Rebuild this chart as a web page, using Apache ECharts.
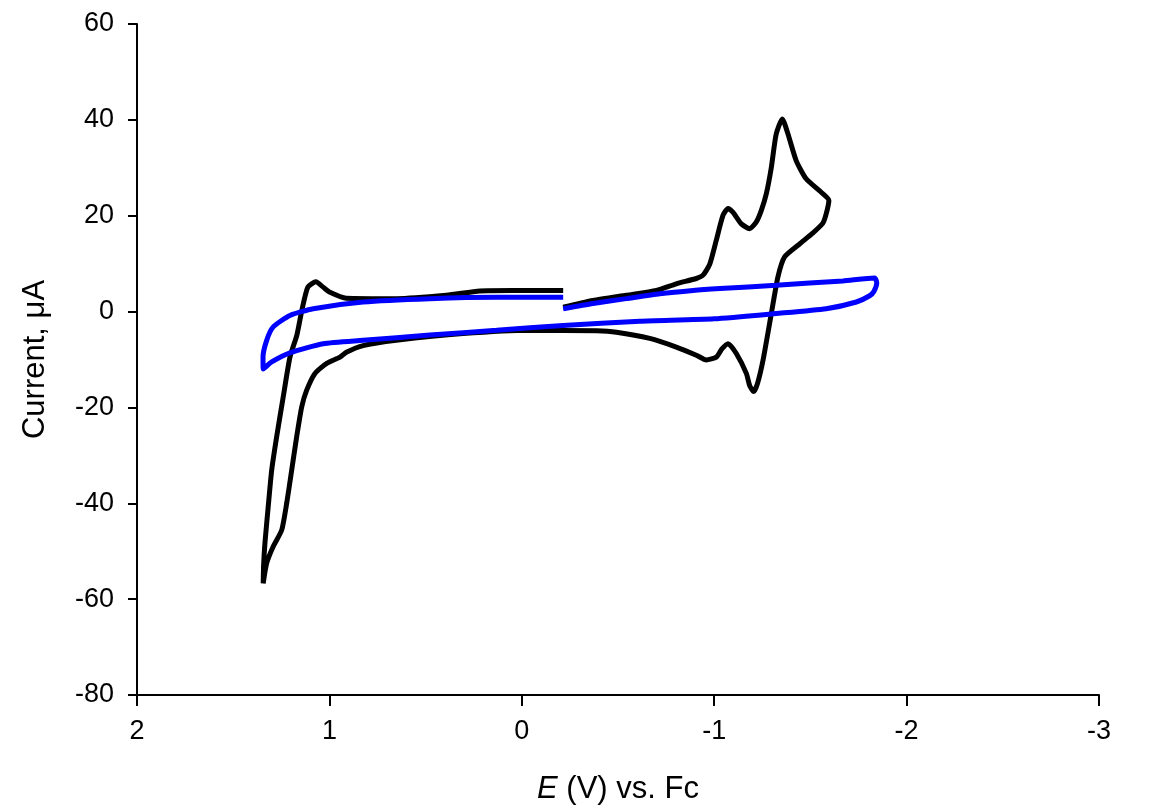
<!DOCTYPE html>
<html>
<head>
<meta charset="utf-8">
<script src="https://cdn.jsdelivr.net/npm/echarts@6/dist/echarts.min.js"></script>
<style>
html,body{margin:0;padding:0;background:#fff;}
#chart{width:1164px;height:812px;}
</style>
</head>
<body>
<div id="chart"></div>
<script>
// Potential (V vs. Fc) and current (µA)
var blackPotential = [-0.215,-0.37,-0.543,-0.70,-0.803,-0.907,-0.942,-0.977,-1.011,-1.046,-1.072,-1.098,-1.141,-1.184,-1.219,-1.245,-1.271,-1.297,-1.322,-1.354,-1.383,-1.426,-1.478,-1.556,-1.596,-1.582,-1.564,-1.51,-1.444,-1.366,-1.331,-1.297,-1.254,-1.225,-1.205,-1.185,-1.167,-1.115,-1.072,-1.040,-1.011,-0.959,-0.907,-0.803,-0.665,-0.492,-0.388,-0.042,0.306,0.652,0.825,0.912,0.945,1.014,1.075,1.118,1.144,1.17,1.196,1.222,1.248,1.292,1.326,1.344,1.342,1.335,1.318,1.30,1.274,1.24,1.205,1.169,1.143,1.112,1.07,1.03,1.0,0.912,0.652,0.392,0.218,0.045,-0.215];
var blackCurrent = [0.9,2.3,3.4,4.4,5.8,6.9,7.6,9.9,14.9,20.1,21.5,20.7,18.3,17.3,18.7,21.1,24.6,30.1,37.0,40.2,37.1,31.5,27.7,24.9,23.2,20.4,18.4,16.3,14.1,11.4,7.2,-0.4,-10.1,-15.0,-16.7,-15.5,-12.9,-8.75,-6.7,-7.8,-9.5,-10.1,-9.1,-7.4,-5.6,-4.3,-4.0,-3.9,-4.6,-6.0,-7.1,-8.5,-9.5,-10.8,-12.9,-16.4,-19.9,-26.1,-33.1,-40.0,-45.6,-49.0,-52.5,-56.7,-53.0,-48.3,-40.7,-33.1,-26.1,-17.8,-9.5,-4.9,0.3,5.1,6.2,5.0,4.1,2.8,2.7,3.4,4.3,4.4,4.4];
var bluePotential = [-0.215,-0.37,-0.543,-0.717,-0.89,-1.03,-1.322,-1.669,-1.834,-1.845,-1.83,-1.808,-1.739,-1.582,-1.322,-1.0,-0.613,-0.215,0.131,0.478,0.825,1.032,1.205,1.30,1.344,1.345,1.326,1.292,1.205,1.084,0.825,0.478,0.131,-0.215];
var blueCurrent = [0.6,1.7,2.7,3.7,4.4,4.8,5.5,6.4,7.0,6.0,4.2,3.3,2.0,0.6,-0.4,-1.5,-2.0,-2.9,-3.9,-4.9,-6.0,-6.7,-8.6,-10.5,-12.0,-9.5,-6.0,-3.2,-0.8,0.6,2.0,2.7,3.0,3.0];
var xTickValues = [2,1,0,-1,-2,-3];
var yTickValues = [60,40,20,0,-20,-40,-60,-80];

function pairs(xs, ys){ return xs.map(function(x,i){ return [x, ys[i]]; }); }

var font = '"Liberation Sans", Arial, sans-serif';
var chart = echarts.init(document.getElementById('chart'), null, {renderer:'canvas'});
chart.setOption({
  backgroundColor:'#ffffff',
  animation:false,
  grid:{left:137, right:65, top:24, bottom:117, containLabel:false},
  xAxis:{
    type:'value', min:-3, max:2, interval:1, inverse:true,
    name:'{i|E} (V) vs. Fc', nameLocation:'middle', nameGap:79,
    nameTextStyle:{fontFamily:font, fontSize:31, color:'#000',
      rich:{i:{fontFamily:font, fontSize:31, fontStyle:'italic', color:'#000'}}},
    axisLine:{show:true, onZero:false, lineStyle:{color:'#000', width:2}},
    axisTick:{show:true, inside:false, length:11, lineStyle:{color:'#000', width:2}},
    axisLabel:{fontFamily:font, fontSize:27, color:'#000', margin:23},
    splitLine:{show:false}
  },
  yAxis:{
    type:'value', min:-80, max:60, interval:20,
    name:'Current, μA', nameLocation:'middle', nameGap:86, nameRotate:90,
    nameTextStyle:{fontFamily:font, fontSize:31, color:'#000'},
    axisLine:{show:true, onZero:false, lineStyle:{color:'#000', width:2}},
    axisTick:{show:true, inside:false, length:9, lineStyle:{color:'#000', width:2}},
    axisLabel:{fontFamily:font, fontSize:27, color:'#000', margin:23},
    splitLine:{show:false}
  },
  series:[
    {type:'line', data:pairs(blackPotential, blackCurrent), showSymbol:false, smooth:0.2,
     lineStyle:{color:'#000000', width:5}, z:2},
    {type:'line', data:pairs(bluePotential, blueCurrent), showSymbol:false, smooth:0.2,
     lineStyle:{color:'#0000ff', width:5}, z:3}
  ]
});
</script>
</body>
</html>
